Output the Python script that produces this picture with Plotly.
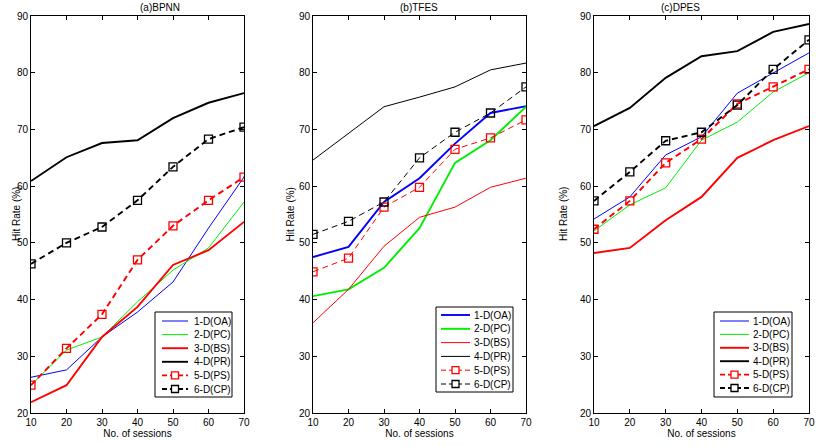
import plotly.graph_objects as go

# ---------------- data ----------------
sessions = [10, 20, 30, 40, 50, 60, 70]
x_ticks = [10, 20, 30, 40, 50, 60, 70]
y_ticks = [20, 30, 40, 50, 60, 70, 80, 90]

panel_titles = ["(a)BPNN", "(b)TFES", "(c)DPES"]
series_labels = ["1-D(OA)", "2-D(PC)", "3-D(BS)", "4-D(PR)", "5-D(PS)", "6-D(CP)"]

# (a) BPNN
a_oa = [26.3, 27.6, 33.4, 37.8, 43.1, 52.6, 61.6]
a_pc = [24.9, 31.1, 33.4, 39.6, 45.2, 49.1, 57.2]
a_bs = [21.9, 24.9, 33.4, 38.7, 46.1, 48.7, 53.7]
a_pr = [60.9, 65.1, 67.6, 68.1, 72.0, 74.7, 76.4]
a_ps = [24.9, 31.4, 37.4, 47.0, 53.0, 57.5, 61.6]
a_cp = [46.3, 50.0, 52.8, 57.5, 63.4, 68.3, 70.4]

# (b)
b_oa = [47.5, 49.3, 57.2, 61.4, 67.5, 72.9, 74.1]
b_pc = [40.6, 41.8, 45.6, 52.6, 64.1, 68.1, 74.0]
b_bs = [35.9, 41.8, 49.4, 54.5, 56.3, 59.8, 61.4]
b_pr = [64.6, 69.3, 74.0, 75.7, 77.5, 80.5, 81.7]
b_ps = [44.9, 47.3, 56.3, 59.8, 66.5, 68.5, 71.7]
b_cp = [51.5, 53.8, 57.2, 65.0, 69.5, 72.9, 77.5]

# (c)
c_oa = [54.2, 58.1, 65.5, 68.7, 76.4, 79.9, 83.5]
c_pc = [52.1, 56.7, 59.7, 68.1, 71.3, 76.6, 80.0]
c_bs = [48.2, 49.1, 54.0, 58.1, 65.0, 68.1, 70.6]
c_pr = [70.6, 73.8, 79.1, 82.9, 83.8, 87.2, 88.6]
c_ps = [52.4, 57.4, 64.1, 68.3, 74.5, 77.5, 80.6]
c_cp = [57.4, 62.5, 68.0, 69.5, 74.3, 80.6, 85.8]

# ---------------- styles ----------------
W, H = 816, 446
BLUE, GREEN, RED, BLACK = "#0000ff", "#00ee00", "#ff0000", "#000000"
DASH = "6px,4px"
THIN, THICK = 1.0, 1.9

colors = [BLUE, GREEN, RED, BLACK, RED, BLACK]
dashes = ["solid", "solid", "solid", "solid", DASH, DASH]
has_marker = [False, False, False, False, True, True]
widths_ac = [THIN, THIN, THICK, THICK, THICK, THICK]
widths_b = [THICK, THICK, THIN, THIN, THIN, THIN]

panels = [
    dict(data=[a_oa, a_pc, a_bs, a_pr, a_ps, a_cp], widths=widths_ac,
         x0=31, x1=244, leg=(155, 312, 232, 397), leg_line=(162, 188), leg_text=192,
         leg_rows=(321, 389), ytitle_x=9),
    dict(data=[b_oa, b_pc, b_bs, b_pr, b_ps, b_cp], widths=widths_b,
         x0=313, x1=526, leg=(436, 307, 513, 392), leg_line=(441, 470), leg_text=472,
         leg_rows=(315, 384), ytitle_x=290),
    dict(data=[c_oa, c_pc, c_bs, c_pr, c_ps, c_cp], widths=widths_ac,
         x0=594, x1=809, leg=(714, 312, 792, 397), leg_line=(720, 749), leg_text=751,
         leg_rows=(321, 388), ytitle_x=571),
]
Y_TOP, Y_BOT = 16, 413


def px(x):
    return x / W


def py(y):
    return 1 - y / H


FONT = "Liberation Sans, Arial, sans-serif"
fig = go.Figure()
shapes = []
annotations = []

for i, p in enumerate(panels):
    xa = "x" if i == 0 else f"x{i + 1}"
    ya = "y" if i == 0 else f"y{i + 1}"
    for k in range(6):
        fig.add_trace(go.Scatter(
            x=sessions, y=p["data"][k], name=series_labels[k],
            mode="lines+markers" if has_marker[k] else "lines",
            line=dict(color=colors[k], width=p["widths"][k], dash=dashes[k]),
            marker=dict(symbol="square-open", size=8, color=colors[k],
                        line=dict(color=colors[k], width=1.3)),
            xaxis=xa, yaxis=ya, showlegend=False))

    ax = dict(domain=[px(p["x0"]), px(p["x1"])], range=[10, 70], tickvals=x_ticks,
              showgrid=False, zeroline=False, showline=True, linecolor="black", linewidth=1,
              mirror="ticks", ticks="inside", ticklen=4, tickcolor="black",
              tickfont=dict(family=FONT, size=10, color="black"),
              automargin=False, anchor=ya,
              title=dict(text="No. of sessions", font=dict(family=FONT, size=10, color="black"),
                         standoff=2))
    ay = dict(domain=[py(Y_BOT), py(Y_TOP)], range=[20, 90], tickvals=y_ticks,
              showgrid=False, zeroline=False, showline=True, linecolor="black", linewidth=1,
              mirror="ticks", ticks="inside", ticklen=4, tickcolor="black",
              tickfont=dict(family=FONT, size=10, color="black"),
              automargin=False, anchor=xa)
    key_x = "xaxis" if i == 0 else f"xaxis{i + 1}"
    key_y = "yaxis" if i == 0 else f"yaxis{i + 1}"
    fig.update_layout(**{key_x: ax, key_y: ay})

    # y-axis title
    annotations.append(dict(text="Hit Rate (%)", x=px(p["ytitle_x"]), y=py((Y_TOP + Y_BOT) / 2),
                            xref="paper", yref="paper", showarrow=False, textangle=-90,
                            font=dict(family=FONT, size=10, color="black")))
    # panel title
    annotations.append(dict(text=panel_titles[i], x=px((p["x0"] + p["x1"]) / 2), y=1.0,
                            xref="paper", yref="paper", yanchor="top", showarrow=False,
                            font=dict(family=FONT, size=10, color="black")))

    # legend box
    lx0, ly0, lx1, ly1 = p["leg"]
    shapes.append(dict(type="rect", xref="paper", yref="paper",
                       x0=px(lx0), x1=px(lx1), y0=py(ly1), y1=py(ly0),
                       line=dict(color="black", width=1), fillcolor="white", layer="above"))
    r0, r1 = p["leg_rows"]
    s0, s1 = p["leg_line"]
    for k in range(6):
        yy = r0 + (r1 - r0) * k / 5
        shapes.append(dict(type="line", xref="paper", yref="paper",
                           x0=px(s0), x1=px(s1), y0=py(yy), y1=py(yy),
                           line=dict(color=colors[k], width=p["widths"][k],
                                     dash="solid" if dashes[k] == "solid" else "5px,3px"),
                           layer="above"))
        if has_marker[k]:
            cx = (s0 + s1) / 2
            shapes.append(dict(type="rect", xref="paper", yref="paper",
                               x0=px(cx - 3.5), x1=px(cx + 3.5), y0=py(yy + 3.5), y1=py(yy - 3.5),
                               line=dict(color=colors[k], width=1.3), fillcolor="white",
                               layer="above"))
        annotations.append(dict(text=series_labels[k], x=px(p["leg_text"]), y=py(yy),
                                xref="paper", yref="paper", xanchor="left", yanchor="middle",
                                showarrow=False,
                                font=dict(family=FONT, size=10, color="black")))

fig.update_layout(
    width=W, height=H, margin=dict(l=0, r=0, t=0, b=0, autoexpand=False),
    plot_bgcolor="white", paper_bgcolor="white",
    shapes=shapes, annotations=annotations, showlegend=False,
)

fig.write_html("out.html")
